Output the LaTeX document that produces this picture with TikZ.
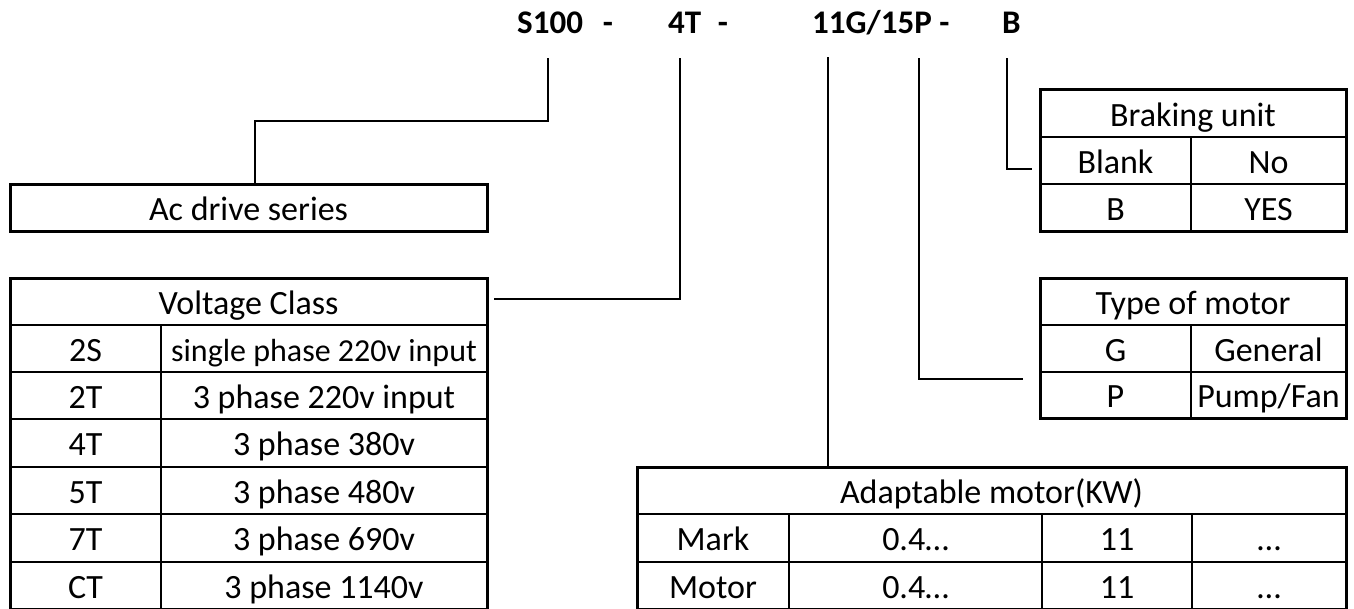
\documentclass[tikz,border=0pt]{standalone}
\usepackage{fontspec}
\setmainfont{Carlito}
\begin{document}
\begin{tikzpicture}[x=1pt,y=-1pt,
  frame/.style={draw, line width=3pt, inner sep=0pt, outer sep=0pt, anchor=north west},
  rule/.style={line width=2.2pt},
  conn/.style={line width=2.8pt},
  cell/.style={anchor=base, inner sep=0pt, font=\fontsize{34}{40}\selectfont},
  smallcell/.style={anchor=base, inner sep=0pt, font=\fontsize{32}{38}\selectfont},
  code/.style={anchor=base west, inner sep=0pt, font=\fontsize{33}{40}\selectfont\bfseries}]
\useasboundingbox (0,0) rectangle (1354,608);

% top code
\node[code] (s100) at (517,33) {S100\hspace{0.6em}-};
\node[code] (v4t) at (668,33) {4T\hspace{0.5em}-};
\node[code] (kw) at (812,33) {11G/15P -};
\node[code] (brk) at (1002,33) {B};

% Ac drive series
\node[frame, minimum width=477pt, minimum height=47pt] (ac) at (10,184) {};
\node[cell] (actext) at (248.5,220) {Ac drive series};

% Voltage class table
\node[frame, minimum width=477pt, minimum height=331pt] (vt) at (10,278) {};
\foreach \y in {325,372,419,467,514,562} \draw[rule] (10,\y) -- (487,\y);
\draw[rule] (161,325) -- (161,609);
\node[cell] (vth) at (248.5,314) {Voltage Class};
\node[cell] (v1a) at (85.5,361) {2S};
\node[smallcell] (v1b) at (324,361) {single phase 220v input};
\node[cell] (v2a) at (85.5,408) {2T};
\node[cell] (v2b) at (324,408) {3 phase 220v input};
\node[cell] (v3a) at (85.5,455) {4T};
\node[cell] (v3b) at (324,455) {3 phase 380v};
\node[cell] (v4a) at (85.5,503) {5T};
\node[cell] (v4b) at (324,503) {3 phase 480v};
\node[cell] (v5a) at (85.5,550) {7T};
\node[cell] (v5b) at (324,550) {3 phase 690v};
\node[cell] (v6a) at (85.5,598) {CT};
\node[cell] (v6b) at (324,598) {3 phase 1140v};

% Braking unit table
\node[frame, minimum width=306pt, minimum height=142pt] (bt) at (1040,89) {};
\draw[rule] (1040,137) -- (1346,137);
\draw[rule] (1040,184) -- (1346,184);
\draw[rule] (1191,137) -- (1191,231);
\node[cell] (bth) at (1193,126) {Braking unit};
\node[cell] (b1a) at (1115.5,173) {Blank};
\node[cell] (b1b) at (1268.5,173) {No};
\node[cell] (b2a) at (1115.5,220) {B};
\node[cell] (b2b) at (1268.5,220) {YES};

% Type of motor table
\node[frame, minimum width=306pt, minimum height=140pt] (tt) at (1040,278) {};
\draw[rule] (1040,325) -- (1346,325);
\draw[rule] (1040,372) -- (1346,372);
\draw[rule] (1191,325) -- (1191,418);
\node[cell] (tth) at (1193,314) {Type of motor};
\node[cell] (t1a) at (1115.5,361) {G};
\node[cell] (t1b) at (1268.5,361) {General};
\node[cell] (t2a) at (1115.5,407) {P};
\node[cell] (t2b) at (1268.5,407) {Pump/Fan};

% Adaptable motor table
\node[frame, minimum width=709pt, minimum height=142pt] (at) at (637,467) {};
\draw[rule] (637,514) -- (1346,514);
\draw[rule] (637,562) -- (1346,562);
\foreach \x in {789,1042,1192} \draw[rule] (\x,514) -- (\x,609);
\node[cell] (ath) at (991.5,503) {Adaptable motor(KW)};
\node[cell] (a1a) at (713,550) {Mark};
\node[cell] (a1b) at (915.5,550) {0.4…};
\node[cell] (a1c) at (1117,550) {11};
\node[cell] (a1d) at (1269,550) {…};
\node[cell] (a2a) at (713,598) {Motor};
\node[cell] (a2b) at (915.5,598) {0.4…};
\node[cell] (a2c) at (1117,598) {11};
\node[cell] (a2d) at (1269,598) {…};

% connectors
\coordinate (a1) at (548,58);
\coordinate (a2) at (255,121);
\draw[conn] (a1) |- (a2) -- (a2 |- ac.north);
\coordinate (b1) at (680,58);
\coordinate (b2) at (494,299);
\draw[conn] (b1) |- (b2);
\coordinate (c1) at (828,57);
\draw[conn] (c1) -- (c1 |- at.north);
\coordinate (d1) at (919,58);
\coordinate (d2) at (1023,379);
\draw[conn] (d1) |- (d2);
\coordinate (e1) at (1007,58);
\coordinate (e2) at (1032,169);
\draw[conn] (e1) |- (e2);
\end{tikzpicture}
\end{document}
